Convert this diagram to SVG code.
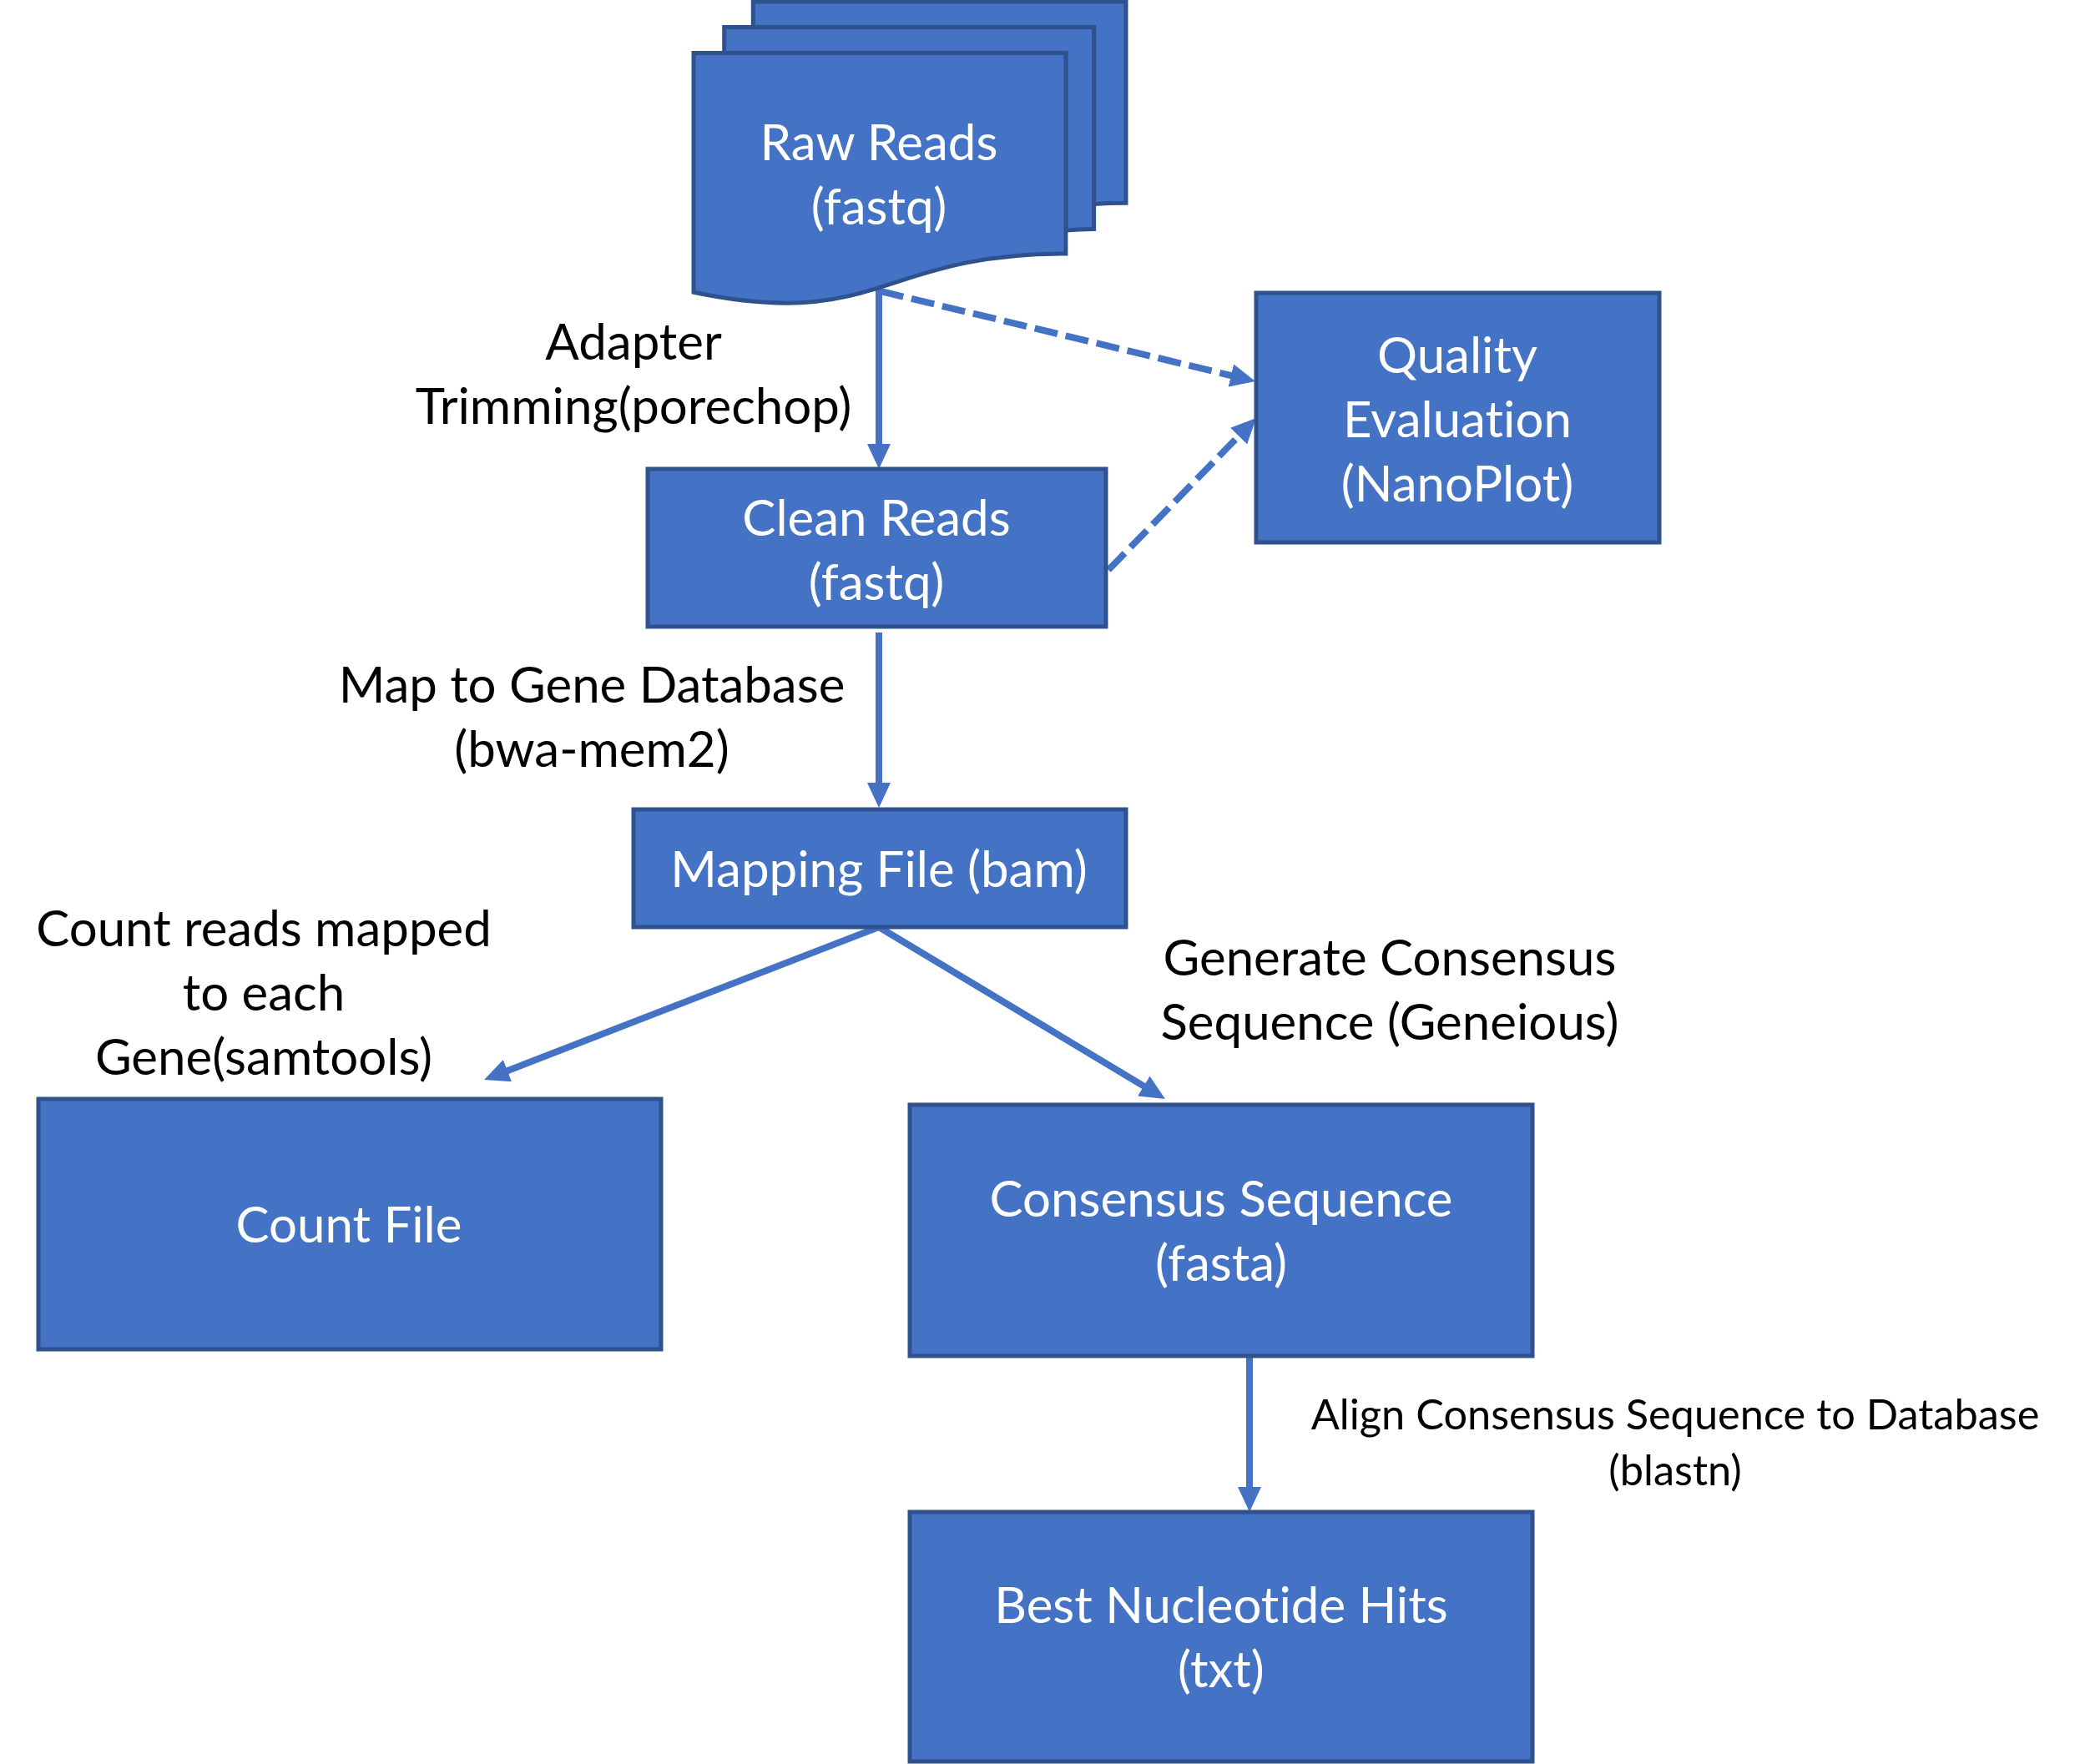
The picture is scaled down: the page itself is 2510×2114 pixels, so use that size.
<svg xmlns="http://www.w3.org/2000/svg" width="2510" height="2114" viewBox="0 0 2510 2114">
<style>
text{font-variant-ligatures:none;font-feature-settings:"liga" 0,"clig" 0}
.box{fill:#4472C4;stroke:#2F528F;stroke-width:5}
.nt{font-family:Lato,"Open Sans",sans-serif;font-size:60px;fill:#FFFFFF;text-anchor:middle}
.lb{font-family:Lato,"Open Sans",sans-serif;font-size:60px;fill:#000000;text-anchor:middle}
.lbs{font-family:Lato,"Open Sans",sans-serif;font-size:50.5px;fill:#000000;text-anchor:middle}
.ln{fill:none;stroke:#4472C4;stroke-width:8}
.dash{stroke-dasharray:28 10}
</style>
<defs>
<marker id="ah" viewBox="0 0 30 28" refX="2" refY="14" markerWidth="30" markerHeight="28" markerUnits="userSpaceOnUse" orient="auto">
<path d="M0,0 L30,14 L0,28 z" fill="#4472C4"/>
</marker>
</defs>
<rect width="2510" height="2114" fill="#FFFFFF"/>
<g id="connectors">
<line class="ln" x1="1053" y1="345" x2="1053" y2="534" marker-end="url(#ah)"/>
<line class="ln dash" x1="1055" y1="349" x2="1476.8" y2="450.5" marker-end="url(#ah)"/>
<line class="ln dash" x1="1328" y1="683" x2="1485.5" y2="521.1" marker-end="url(#ah)"/>
<line class="ln" x1="1053" y1="758" x2="1053" y2="940" marker-end="url(#ah)"/>
<line class="ln" x1="1053" y1="1111" x2="606.1" y2="1283.9" marker-end="url(#ah)"/>
<line class="ln" x1="1053" y1="1111" x2="1372" y2="1302.6" marker-end="url(#ah)"/>
<line class="ln" x1="1497" y1="1625" x2="1497" y2="1784" marker-end="url(#ah)"/>
</g>
<g id="labels">
<text class="lb" x="759" y="431">Adapter</text>
<text class="lb" x="759" y="508">Trimming(porechop)</text>
<text class="lb" x="709" y="842">Map to Gene Database</text>
<text class="lb" x="709" y="919">(bwa-mem2)</text>
<text class="lb" x="316" y="1134">Count reads mapped</text>
<text class="lb" x="316" y="1211">to each</text>
<text class="lb" x="316" y="1288">Gene(samtools)</text>
<text class="lb" x="1665" y="1169">Generate Consensus</text>
<text class="lb" x="1665" y="1246">Sequence (Geneious)</text>
<text class="lbs" x="2007" y="1713">Align Consensus Sequence to Database</text>
<text class="lbs" x="2007" y="1780">(blastn)</text>
</g>
<g id="raw-reads">
<path class="box" d="M902.3,32.4 L902.3,2 L1349,2 L1349,243.2 C1329.8,243.2 1310.6,244.5 1310.6,244.5 L1310.6,32.4 Z"/>
<path class="box" d="M867.7,63.6 L867.7,32.4 L1310.6,32.4 L1310.6,274.4 C1293.8,274.4 1276.9,276 1276.9,276 L1276.9,63.6 Z"/>
<path class="box" d="M831,350.3 C1054,396.5 1054,304 1276.9,304 L1276.9,63.6 L831,63.6 Z"/>
<text class="nt" x="1053" y="192">Raw Reads</text>
<text class="nt" x="1053" y="269">(fastq)</text>
</g>
<g id="quality-evaluation">
<rect class="box" x="1505" y="351" width="483" height="299"/>
<text class="nt" x="1746" y="447">Quality</text>
<text class="nt" x="1746" y="524">Evaluation</text>
<text class="nt" x="1746" y="601">(NanoPlot)</text>
</g>
<g id="clean-reads">
<rect class="box" x="776" y="562" width="549" height="189"/>
<text class="nt" x="1050" y="642">Clean Reads</text>
<text class="nt" x="1050" y="719">(fastq)</text>
</g>
<g id="mapping-file">
<rect class="box" x="759" y="970" width="590" height="141"/>
<text class="nt" x="1053" y="1063">Mapping File (bam)</text>
</g>
<g id="count-file">
<rect class="box" x="46" y="1317" width="746" height="300"/>
<text class="nt" x="418" y="1489">Count File</text>
</g>
<g id="consensus-sequence">
<rect class="box" x="1090" y="1324" width="746" height="301"/>
<text class="nt" x="1463" y="1458">Consensus Sequence</text>
<text class="nt" x="1463" y="1535">(fasta)</text>
</g>
<g id="best-hits">
<rect class="box" x="1090" y="1812" width="746" height="299"/>
<text class="nt" x="1463" y="1945">Best Nucleotide Hits</text>
<text class="nt" x="1463" y="2022">(txt)</text>
</g>
</svg>
